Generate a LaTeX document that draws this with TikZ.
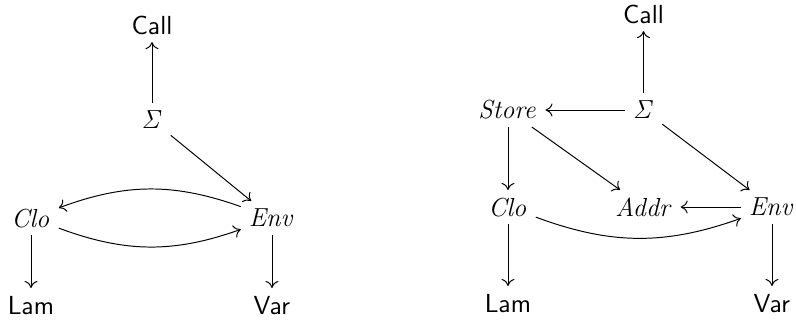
\documentclass[tikz,border=0pt]{standalone}
\usetikzlibrary{arrows.meta}
\begin{document}
\begin{tikzpicture}[x=0.46pt,y=-0.46pt,
  lbl/.style={inner sep=3.5pt,font=\fontsize{11.8}{14}\selectfont},
  ar/.style={draw,-{To[length=3.2pt,width=6pt]},line width=0.45pt}]
\useasboundingbox (0,0) rectangle (796,329);
% left diagram
\node[lbl] (lcall) at (152,25) {$\mathsf{Call}$};
\node[lbl] (lsig) at (152,120) {$\mathit{\Sigma}$};
\node[lbl] (lclo) at (31,218) {$\mathit{Clo}$};
\node[lbl] (lenv) at (272,218) {$\mathit{Env}$};
\node[lbl] (llam) at (31,305) {$\mathsf{Lam}$};
\node[lbl] (lvar) at (272,305) {$\mathsf{Var}$};
\draw[ar] (lsig) -- (lcall);
\draw[ar] (lsig) -- (lenv);
\draw[ar] (lenv) to[bend right=20] (lclo);
\draw[ar] (lclo) to[bend right=20] (lenv);
\draw[ar] (lclo) -- (llam);
\draw[ar] (lenv) -- (lvar);
% right diagram
\node[lbl] (rcall) at (643.5,14) {$\mathsf{Call}$};
\node[lbl] (rsig) at (643.5,110) {$\mathit{\Sigma}$};
\node[lbl] (rstore) at (508,110) {$\mathit{Store}$};
\node[lbl] (rclo) at (508,207) {$\mathit{Clo}$};
\node[lbl] (raddr) at (644,207) {$\mathit{Addr}$};
\node[lbl] (renv) at (772,207) {$\mathit{Env}$};
\node[lbl] (rlam) at (508,303) {$\mathsf{Lam}$};
\node[lbl] (rvar) at (772,303) {$\mathsf{Var}$};
\draw[ar] (rsig) -- (rcall);
\draw[ar] (rsig) -- (rstore);
\draw[ar] (rsig) -- (renv);
\draw[ar] (rstore) -- (rclo);
\draw[ar] (rstore) -- (raddr);
\draw[ar] (renv) -- (raddr);
\draw[ar] (rclo) to[bend right=20] (renv);
\draw[ar] (rclo) -- (rlam);
\draw[ar] (renv) -- (rvar);
\end{tikzpicture}
\end{document}
